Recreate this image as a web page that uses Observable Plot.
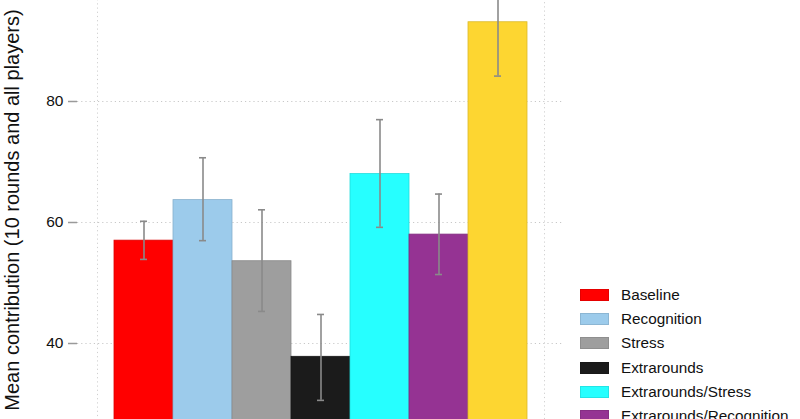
<!DOCTYPE html>
<html>
<head>
<meta charset="utf-8">
<script src="https://cdn.jsdelivr.net/npm/d3@7"></script>
<script src="https://cdn.jsdelivr.net/npm/@observablehq/plot@0.6"></script>
<style>
  html, body { margin: 0; padding: 0; background: #fff; }
  #wrap { position: relative; width: 800px; height: 419px; overflow: hidden; }
  #legend { position: absolute; left: 580px; top: 283px; font-family: "Liberation Sans", Arial, sans-serif; font-size: 15.3px; color: #111; }
  .row { display: flex; align-items: center; height: 24.2px; }
  .sw { width: 29px; height: 12px; margin-right: 12px; box-sizing: border-box; }
</style>
</head>
<body>
<div id="wrap"></div>
<script>
const categories = ["Baseline", "Recognition", "Stress", "Extrarounds", "Extrarounds/Stress", "Extrarounds/Recognition", "Extrarounds/Stress/Recognition"];
const means = [57.0, 63.7, 53.6, 37.8, 68.0, 58.0, 93.1];
const lower = [53.9, 57.0, 45.3, 30.6, 59.2, 51.4, 84.2];
const upper = [60.2, 70.7, 62.1, 44.8, 77.0, 64.7, 102.0];
const colors = ["#ff0000", "#9ccbeb", "#9e9e9e", "#1b1b1b", "#26ffff", "#953393", "#fdd631"];
const yTicks = [40, 60, 80];
const yLabel = "Mean contribution (10 rounds and all players)";

const data = categories.map((c, i) => ({cat: c, mean: means[i], lo: lower[i], hi: upper[i], color: colors[i]}));

const plot = Plot.plot({
  width: 800,
  height: 419,
  marginTop: 0,
  marginBottom: 0,
  marginLeft: 77,
  marginRight: 238,
  style: {fontFamily: "Liberation Sans, Arial, sans-serif", overflow: "hidden", background: "#fff"},
  x: {domain: categories, paddingInner: 0, paddingOuter: 0.58, align: 0.52, axis: null},
  y: {domain: [27.438, 96.694], axis: null},
  color: {domain: categories, range: colors},
  marks: [
    Plot.gridY(yTicks, {stroke: "#c8c8c8", strokeOpacity: 1, strokeWidth: 1, strokeDasharray: "1.2,3"}),
    Plot.frame({stroke: "#d0d0d0", strokeWidth: 1, strokeDasharray: "1.2,3", insetLeft: 20, insetRight: 18, insetTop: -5, insetBottom: -5}),
    Plot.barY(data, {x: "cat", y1: 0, y2: "mean", fill: "color", stroke: d => d3.color(d.color).darker(0.4).formatHex(), strokeWidth: 0.8, clip: true}),
    Plot.ruleX(data, {x: "cat", y1: "lo", y2: "hi", stroke: "#8a8a8a", strokeWidth: 1.6, clip: true}),
    Plot.tickY(data, {x: "cat", y: "lo", stroke: "#8a8a8a", strokeWidth: 1.6, insetLeft: 26, insetRight: 26, clip: true}),
    Plot.tickY(data, {x: "cat", y: "hi", stroke: "#8a8a8a", strokeWidth: 1.6, insetLeft: 26, insetRight: 26, clip: true}),
    Plot.axisY({ticks: yTicks, tickSize: 9, tickPadding: 5, fontSize: 15.5, stroke: "#9a9a9a", strokeWidth: 1.5, fill: "#111", label: null, line: true}),
    Plot.text([yLabel], {frameAnchor: "left", dx: -65, rotate: -90, fontSize: 20, fill: "#111", text: d => d, textAnchor: "middle"})
  ]
});

const wrap = document.getElementById("wrap");
wrap.appendChild(plot);

const legend = document.createElement("div");
legend.id = "legend";
categories.forEach((c, i) => {
  const row = document.createElement("div");
  row.className = "row";
  const sw = document.createElement("div");
  sw.className = "sw";
  sw.style.background = colors[i];
  sw.style.border = "1px solid " + d3.color(colors[i]).darker(0.3).formatHex();
  const t = document.createElement("span");
  t.textContent = c;
  row.appendChild(sw);
  row.appendChild(t);
  legend.appendChild(row);
});
wrap.appendChild(legend);
</script>
</body>
</html>
